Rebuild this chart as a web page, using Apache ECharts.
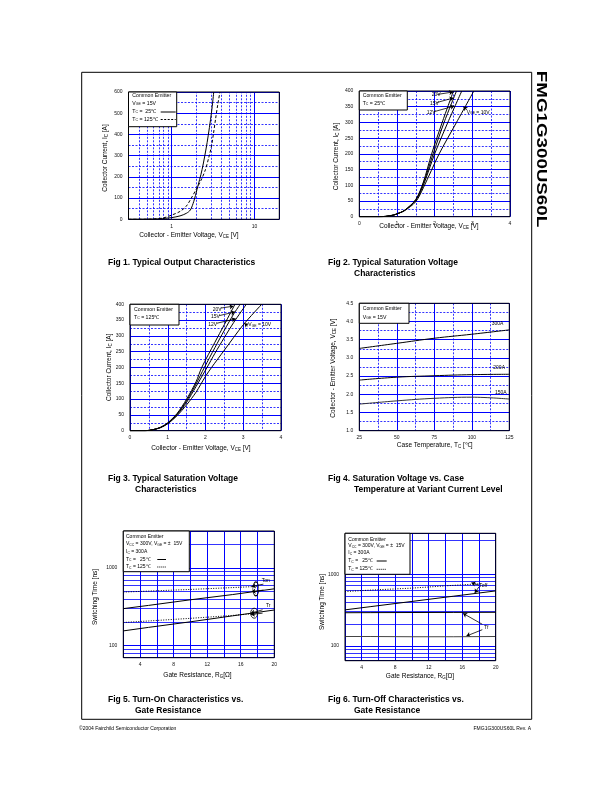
<!DOCTYPE html>
<html><head><meta charset="utf-8">
<script src="https://cdn.jsdelivr.net/npm/echarts@6/dist/echarts.min.js"></script>
<style>html,body{margin:0;padding:0;background:#fff}#c{width:612px;height:792px}</style>
</head><body><div id="c"></div>
<script>
// ================= DATA =================
// Fig 1: Ic vs Vce (log x)
const fig1X25  = [0.3,0.5,0.7,0.85,1.0,1.26,1.5,1.68,1.85,2.02,2.33,2.68,3.03,3.22];
const fig1Y25  = [0,0.5,2,5,8,16,28,44,85,140,235,362,505,600];
const fig1X125 = [0.3,0.5,0.6,0.8,1.0,1.26,1.5,1.68,2.02,2.3,2.56,2.8,3.03,3.2,3.39,3.6,3.83];
const fig1Y125 = [0,0.5,1.5,7,20,37,62,92,148,190,235,290,346,405,473,540,600];
const fig1MinorX = [0.4,0.5,0.6,0.7,0.8,0.9,2,3,4,5,6,7,8,9];
const fig1XLabels = [1,10];
// Fig 2: Tc = 25C, Vge 20/15/12/10
const fig2X20 = [0,0.5,0.7,0.9,1.0,1.2,1.5,1.7,1.92,2.2,2.5];
const fig2Y20 = [0,0,1,5,9,20,55,110,200,300,400];
const fig2X15 = [0,0.5,0.7,0.9,1.0,1.2,1.5,1.7,1.96,2.25,2.58];
const fig2Y15 = [0,0,1,5,9,20,54,106,200,300,400];
const fig2X12 = [0,0.5,0.7,0.9,1.0,1.2,1.5,1.7,2.0,2.35,2.72];
const fig2Y12 = [0,0,1,5,9,20,52,100,200,300,400];
const fig2X10 = [0,0.5,0.7,0.9,1.0,1.2,1.5,1.7,2.12,2.58,3.04];
const fig2Y10 = [0,0,1,5,9,19,48,92,200,300,400];
// Fig 3: Tc = 125C
const fig3X20 = [0,0.4,0.6,0.8,1.0,1.25,1.5,1.75,1.9,2.25,2.5,2.78];
const fig3Y20 = [0,0,3,10,25,55,100,155,200,280,336,400];
const fig3X15 = [0,0.4,0.6,0.8,1.0,1.25,1.5,1.75,1.97,2.25,2.5,2.75,2.92];
const fig3Y15 = [0,0,3,10,24,53,95,148,200,263,318,370,400];
const fig3X12 = [0,0.4,0.6,0.8,1.0,1.25,1.5,1.75,2.04,2.25,2.5,2.75,3.08];
const fig3Y12 = [0,0,3,10,23,51,90,140,200,245,295,343,400];
const fig3X10 = [0,0.4,0.6,0.8,1.0,1.25,1.5,1.75,2.0,2.16,2.5,3.0,3.49];
const fig3Y10 = [0,0,3,9,22,48,82,122,172,200,255,335,400];
// Fig 4: Vce vs Tc
const fig4T    = [25,50,75,100,125];
const fig4V300 = [3.26,3.40,3.54,3.65,3.77];
const fig4V200 = [2.39,2.47,2.51,2.54,2.55];
const fig4V150 = [1.73,1.82,1.89,1.92,1.87];
// Fig 5: turn-on vs Rg
const fig5Rg      = [2,5,10,15,20];
const fig5Ton25   = [300,330,390,455,540];
const fig5Tr25    = [155,172,203,242,288];
const fig5RgHot   = [2,5,10,15,18];
const fig5Ton125  = [490,505,530,560,580];
const fig5Tr125   = [199,208,225,245,262];
// Fig 6: turn-off vs Rg
const fig6Rg      = [2,5,10,15,20];
const fig6Toff25  = [318,352,417,494,585];
const fig6Tf125   = [290,291,292,293,294];
const fig6Tf25    = [135,135,134,134,135];
const fig6RgHot   = [2,5,10,15,18];
const fig6Toff125 = [573,600,640,700,735];
const fig5MinorY  = [80,90,200,300,400,500,600,700,800,900,2000,3000];
const fig6MinorY  = [70,80,90,200,300,400,500,600,700,800,900,3000];
const logLabels   = [100,1000];

// ================= LAYOUT =================
const FONT = '"Liberation Sans", Arial, Helvetica, sans-serif';
const BLUE = '#0000ff';
const grids = [
  {left:128.5, top:92,   width:150.8, height:127.3},
  {left:359.3, top:91,   width:150.7, height:125.7},
  {left:130,   top:304.3,width:151,   height:126.4},
  {left:359.3, top:303.3,width:150,   height:127.4},
  {left:123.3, top:531,  width:151,   height:126.7},
  {left:345,   top:533.3,width:150.7, height:127.4}
];
const lbl = (fmt, margin) => ({fontSize:5, color:'#111', fontFamily:FONT, margin: margin, formatter: fmt});
function valAxis(idx, min, max, interval, fmt, margin) {
  return {type:'value', gridIndex:idx, min, max, interval,
    axisLine:{show:false}, axisTick:{show:false},
    axisLabel: lbl(fmt, margin),
    splitLine:{show:true, lineStyle:{color:BLUE, width:1}},
    minorSplitLine:{show:true, lineStyle:{color:BLUE, width:0.8, type:[2,1.5]}},
    minorTick:{show:false, splitNumber:2}};
}
function logAxis(idx, min, max, shown, margin) {
  return {type:'log', logBase:10, gridIndex:idx, min, max,
    axisLine:{show:false}, axisTick:{show:false},
    axisLabel: lbl(v => shown.some(s => Math.abs(v - s) < s*1e-6) ? String(Math.round(v)) : '', margin),
    splitLine:{show:true, lineStyle:{color:BLUE, width:1}},
    minorSplitLine:{show:false}};
}
const everyFour = v => (Math.round(v) % 4 === 0) ? String(Math.round(v)) : '';
const xAxes = [
  logAxis(0, 0.3, 20, fig1XLabels, 4.5),
  valAxis(1, 0, 4, 1, v => String(v), 4.5),
  valAxis(2, 0, 4, 1, v => String(v), 4.5),
  valAxis(3, 25, 125, 25, v => String(v), 4.5),
  Object.assign(valAxis(4, 2, 20, 2, everyFour, 4.5), {minorSplitLine:{show:false}}),
  Object.assign(valAxis(5, 2, 20, 2, everyFour, 4.5), {minorSplitLine:{show:false}})
];
const yAxes = [
  valAxis(0, 0, 600, 100, v => String(v), 6),
  valAxis(1, 0, 400, 50, v => String(v), 6),
  valAxis(2, 0, 400, 50, v => String(v), 6),
  valAxis(3, 1.0, 4.5, 0.5, v => v.toFixed(1), 6),
  logAxis(4, 70, 3000, logLabels, 6),
  logAxis(5, 62, 3730, logLabels, 6)
];

const pairs = (xs, ys) => xs.map((x, i) => [x, ys[i]]);
function curve(idx, xs, ys, o) {
  o = o || {};
  return {type:'line', xAxisIndex:idx, yAxisIndex:idx, data:pairs(xs, ys), smooth:o.smooth === undefined ? 0.3 : o.smooth,
    symbol:'none', silent:true, animation:false, z:5,
    lineStyle:{color:o.color || '#000', width:o.width || 1, type:o.type || 'solid'}};
}
function gridLines(idx, vals, axis, type) {
  return {type:'line', xAxisIndex:idx, yAxisIndex:idx, data:[], z:1, silent:true, animation:false,
    markLine:{silent:true, symbol:'none', animation:false, label:{show:false},
      lineStyle:{color:BLUE, width:0.8, type:type || 'solid'},
      data: vals.map(v => axis === 'x' ? {xAxis:v} : {yAxis:v})}};
}
function arrows(idx, segs, marks) {
  const s = {type:'line', xAxisIndex:idx, yAxisIndex:idx, data:[], z:6, silent:true, animation:false,
    markLine:{silent:true, symbol:['none','arrow'], symbolSize:4, animation:false, label:{show:false},
      lineStyle:{color:'#000', width:0.8, type:'solid'},
      data: segs.map(s => [{coord:s[0]}, {coord:s[1]}])}};
  if (marks) s.markPoint = {silent:true, animation:false, label:{show:false},
      data: marks.map(m => ({coord:m[0], symbol:'circle', symbolSize:m[1],
        itemStyle:{color:'rgba(0,0,0,0)', borderColor:'#000', borderWidth:0.8}}))};
  return s;
}

const series = [
  gridLines(0, fig1MinorX, 'x', [2,1.5]),
  curve(0, fig1X25, fig1Y25),
  curve(0, fig1X125, fig1Y125, {type:[3,2]}),
  curve(1, fig2X20, fig2Y20), curve(1, fig2X15, fig2Y15), curve(1, fig2X12, fig2Y12), curve(1, fig2X10, fig2Y10),
  arrows(1, [[[2.07,389],[2.49,397]], [[2.05,363],[2.5,378]], [[1.98,334],[2.52,352]], [[2.86,340],[2.76,350]]]),
  curve(2, fig3X20, fig3Y20), curve(2, fig3X15, fig3Y15), curve(2, fig3X12, fig3Y12), curve(2, fig3X10, fig3Y10),
  arrows(2, [[[2.4,388],[2.74,394]], [[2.36,364],[2.78,376]], [[2.3,340],[2.8,354]], [[3.12,331],[3.03,340]]]),
  curve(3, fig4T, fig4V300, {smooth:0.4}), curve(3, fig4T, fig4V200, {smooth:0.4}), curve(3, fig4T, fig4V150, {smooth:0.4, color:'#333'}),
  gridLines(4, fig5MinorY, 'y'),
  curve(4, fig5Rg, fig5Ton25, {smooth:0}), curve(4, fig5Rg, fig5Tr25, {smooth:0}),
  curve(4, fig5RgHot, fig5Ton125, {smooth:0, type:[1,1.5]}), curve(4, fig5RgHot, fig5Tr125, {smooth:0, type:[1,1.5]}),
  arrows(4, [[[18.7,620],[17.3,580]], [[18.7,520],[17.3,497]], [[18.6,290],[17.2,262]], [[18.6,262],[17.2,252]]],
            [[[17.8,540],[6,14]], [[17.6,262],[7,10]]]),
  gridLines(5, fig6MinorY, 'y'),
  curve(5, fig6Rg, fig6Toff25, {smooth:0}), curve(5, fig6Rg, fig6Tf125, {smooth:0}), curve(5, fig6Rg, fig6Tf25, {smooth:0, color:'#444'}),
  curve(5, fig6RgHot, fig6Toff125, {smooth:0, type:[1,1.5]}),
  arrows(5, [[[18.0,705],[17.1,760]], [[18.0,668],[17.5,548]], [[18.4,200],[16.1,284]], [[18.4,168],[16.5,137]]])
];

// ================= GRAPHIC (frame, texts) =================
const G = [];
const rich = sz => ({
  n:{fontSize:sz, fontFamily:FONT, fill:'#000'},
  s:{fontSize:sz*0.68, fontFamily:FONT, fill:'#000', verticalAlign:'bottom'}
});
function txt(x, y, text, o) {
  o = o || {};
  const sz = o.size || 6;
  G.push({type:'text', x, y, rotation:o.rot || 0, scaleX:o.sx || 1, z:100, silent:true,
    style:{text, fill:'#000', font:(o.bold ? 'bold ' : '') + sz + 'px ' + FONT,
      align:o.align || 'left', verticalAlign:'middle', rich:o.rich ? rich(sz) : undefined}});
}
function rect(x, y, w, h, fill, z) {
  G.push({type:'rect', z:z || 90, silent:true, shape:{x, y, width:w, height:h},
    style:{fill:fill || null, stroke:'#000', lineWidth:1}});
}
function seg(x1, y1, x2, y2, dash) {
  G.push({type:'line', z:100, silent:true, shape:{x1, y1, x2, y2},
    style:{stroke:'#000', lineWidth:1, lineDash:dash || null}});
}

// page frame
rect(81.7, 72.3, 450, 647, null, 80);
// plot borders
grids.forEach(g => rect(g.left, g.top, g.width, g.height, null, 95));

// Fig 1 legend
rect(128.5, 92, 48.2, 34.7, '#fff', 96);
txt(132.3, 95.7, 'Common Emitter', {size:5.2});
txt(132.3, 103.3, '{n|V}{s|GE}{n| = 15V}', {size:5.2, rich:true});
txt(132.3, 111.6, '{n|T}{s|C}{n| =  25℃}', {size:5.2, rich:true});
txt(132.3, 119.3, '{n|T}{s|C}{n| = 125℃}', {size:5.2, rich:true});
seg(160.7, 112, 175.7, 112);
seg(160.7, 119.5, 175.7, 119.5, [2,1.5]);
// Fig 2 legend
rect(359.3, 91, 48, 19, '#fff', 96);
txt(362.7, 95.5, 'Common Emitter', {size:5.2});
txt(362.7, 103.5, '{n|T}{s|C}{n| = 25℃}', {size:5.2, rich:true});
// Fig 3 legend
rect(130, 304.3, 49, 20.7, '#fff', 96);
txt(134, 310, 'Common Emitter', {size:5.2});
txt(134, 317.5, '{n|T}{s|C}{n| = 125℃}', {size:5.2, rich:true});
// Fig 4 legend
rect(359.3, 303.3, 49.7, 20, '#fff', 96);
txt(362.7, 309, 'Common Emitter', {size:5.2});
txt(362.7, 317.3, '{n|V}{s|GE}{n| = 15V}', {size:5.2, rich:true});
// Fig 5 legend
rect(123.3, 531, 66, 40.7, '#fff', 96);
txt(126, 536.7, 'Common Emitter', {size:5});
txt(126, 544, '{n|V}{s|CC}{n| = 300V, V}{s|GE}{n| = ±  15V}', {size:5, rich:true});
txt(126, 551.7, '{n|I}{s|C}{n| = 300A}', {size:5, rich:true});
txt(126, 559.3, '{n|T}{s|C}{n| =   25℃}', {size:5, rich:true});
txt(126, 566.7, '{n|T}{s|C}{n| = 125℃}', {size:5, rich:true});
seg(157.3, 559.5, 166, 559.5);
seg(157.3, 567, 166, 567, [1,1]);
// Fig 6 legend
rect(345, 533.3, 65, 41, '#fff', 96);
txt(348.3, 539.3, 'Common Emitter', {size:5});
txt(348.3, 546, '{n|V}{s|CC}{n| = 300V, V}{s|GE}{n| = ±  15V}', {size:5, rich:true});
txt(348.3, 552.7, '{n|I}{s|C}{n| = 300A}', {size:5, rich:true});
txt(348.3, 560.7, '{n|T}{s|C}{n| =   25℃}', {size:5, rich:true});
txt(348.3, 569, '{n|T}{s|C}{n| = 125℃}', {size:5, rich:true});
seg(376.7, 561, 386.7, 561);
seg(376.7, 569.3, 386.7, 569.3, [1,1]);

// curve annotations
txt(431.7, 95, '20V', {size:5}); txt(430, 103.3, '15V', {size:5}); txt(426.7, 112.3, '12V', {size:5});
txt(466.7, 112.3, '{n|V}{s|GE}{n| = 10V}', {size:5, rich:true});
txt(212.7, 309.3, '20V', {size:5}); txt(211, 316.7, '15V', {size:5}); txt(208.3, 324.3, '12V', {size:5});
txt(248.3, 325, '{n|V}{s|GE}{n| = 10V}', {size:5, rich:true});
txt(491.7, 324, '300A', {size:5}); txt(493.3, 367.7, '200A', {size:5}); txt(495, 392.7, '150A', {size:5});
txt(261.7, 580.7, 'Ton', {size:5}); txt(266, 606, 'Tr', {size:5});
txt(479.3, 586, 'Toff', {size:5}); txt(484, 627.3, 'Tf', {size:5});

// axis titles
const ax = 6.5;
txt(189, 235, '{n|Collector - Emitter Voltage, V}{s|CE}{n| [V]}', {size:ax, rich:true, align:'center'});
txt(105, 158, '{n|Collector Current, I}{s|C}{n| [A]}', {size:ax, rich:true, align:'center', rot:Math.PI/2});
txt(429, 226.7, '{n|Collector - Emitter Voltage, V}{s|CE}{n| [V]}', {size:ax, rich:true, align:'center'});
txt(336.7, 156.5, '{n|Collector Current, I}{s|C}{n| [A]}', {size:ax, rich:true, align:'center', rot:Math.PI/2});
txt(201, 448.3, '{n|Collector - Emitter Voltage, V}{s|CE}{n| [V]}', {size:ax, rich:true, align:'center'});
txt(109.3, 367.3, '{n|Collector Current, I}{s|C}{n| [A]}', {size:ax, rich:true, align:'center', rot:Math.PI/2});
txt(434.7, 445, '{n|Case Temperature, T}{s|C}{n| [℃]}', {size:ax, rich:true, align:'center'});
txt(333.3, 368, '{n|Collector - Emitter Voltage, V}{s|CE}{n| [V]}', {size:ax, rich:true, align:'center', rot:Math.PI/2});
txt(197.5, 675, '{n|Gate Resistance, R}{s|G}{n|[Ω]}', {size:ax, rich:true, align:'center'});
txt(95, 597, 'Switching Time [ns]', {size:ax, align:'center', rot:Math.PI/2});
txt(420, 676.7, '{n|Gate Resistance, R}{s|G}{n|[Ω]}', {size:ax, rich:true, align:'center'});
txt(322.7, 602, 'Switching Time [ns]', {size:ax, align:'center', rot:Math.PI/2});

// captions
const cp = {size:8.5, bold:true};
txt(108, 263, 'Fig 1. Typical Output Characteristics', cp);
txt(328, 263, 'Fig 2. Typical Saturation Voltage', cp);
txt(354, 273.5, 'Characteristics', cp);
txt(108, 479, 'Fig 3. Typical Saturation Voltage', cp);
txt(135, 490, 'Characteristics', cp);
txt(328, 479, 'Fig 4. Saturation Voltage vs. Case', cp);
txt(354, 490, 'Temperature at Variant Current Level', cp);
txt(108, 700, 'Fig 5. Turn-On Characteristics vs.', cp);
txt(135, 711, 'Gate Resistance', cp);
txt(328, 700, 'Fig 6. Turn-Off Characteristics vs.', cp);
txt(354, 711, 'Gate Resistance', cp);

// side title & footer
txt(541, 149, 'FMG1G300US60L', {size:14, bold:true, rot:-Math.PI/2, align:'center', sx:1.34});
txt(79, 729, '©2004 Fairchild Semiconductor Corporation', {size:5});
txt(531, 729, 'FMG1G300US60L Rev. A', {size:5, align:'right'});

const chart = echarts.init(document.getElementById('c'), null, {renderer:'canvas'});
chart.setOption({
  animation:false,
  backgroundColor:'#fff',
  grid: grids.map(g => Object.assign({show:false, containLabel:false}, g)),
  xAxis: xAxes,
  yAxis: yAxes,
  series: series,
  graphic: {elements: G}
});
</script>
</body></html>
